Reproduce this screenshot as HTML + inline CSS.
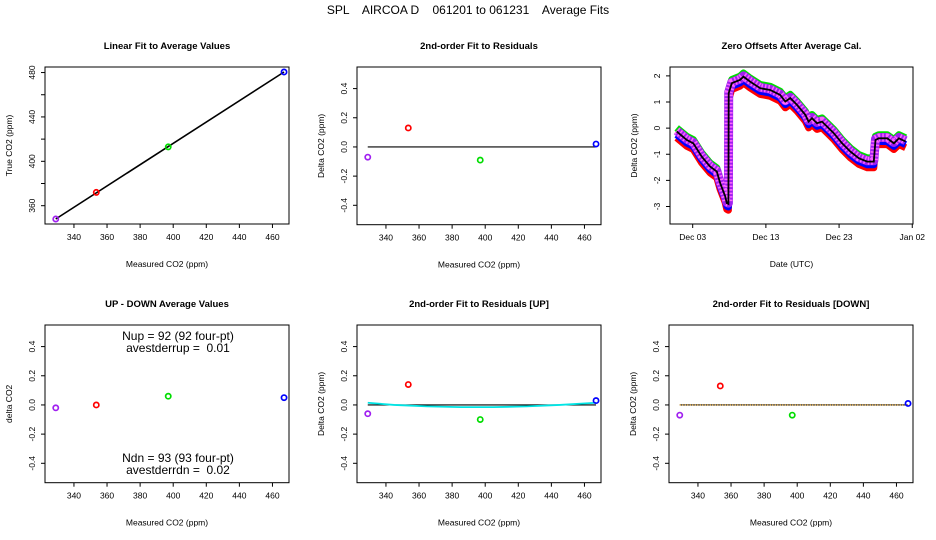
<!DOCTYPE html>
<html><head><meta charset="utf-8"><style>
body{margin:0;background:#fff}
svg{display:block;font-family:"Liberation Sans",sans-serif}
text{white-space:pre}
</style></head><body>
<svg id="c" width="936" height="540" viewBox="0 0 936 540">
<rect width="936" height="540" fill="#fff"/>
<text x="468" y="14" font-size="12" text-anchor="middle" xml:space="preserve">SPL    AIRCOA D    061201 to 061231    Average Fits</text>
</svg>
<script>
// ---- data ----
const measured = [329, 353.5, 397, 467];
const trueVals = [348, 372, 413, 480.5];
const ptColors = ['#a020f0', '#ff0000', '#00dd00', '#0000ff'];
const resid = [-0.07, 0.13, -0.09, 0.02];
const udDelta = [-0.02, 0.00, 0.06, 0.05];
const residUp = [-0.06, 0.14, -0.10, 0.03];
const residDn = [-0.07, 0.13, -0.07, 0.01];
const upFitX = [329, 345, 365, 385, 405, 425, 445, 467];
const upFitY = [0.015, 0.0, -0.01, -0.015, -0.015, -0.01, 0.0, 0.015];
const xTicks = [340, 360, 380, 400, 420, 440, 460];
const resTicks = [-0.4, -0.2, 0.0, 0.2, 0.4];
const trueTicks = [360, 380, 400, 420, 440, 460, 480];
const trueTickLabels = ['360', '', '400', '', '440', '', '480'];
const days = [0.81,2.18,3.09,4.23,5.37,6.29,6.74,7.43,7.66,7.88,7.92,8.34,9.48,9.94,10.85,12.22,13.59,14.96,15.65,16.33,17.25,18.39,18.84,19.30,19.99,20.67,21.36,22.27,23.42,24.55,25.69,26.84,27.75,27.98,28.43,29.58,30.49,31.18,32.09];
const meanOff = [-0.13,-0.45,-0.58,-1.09,-1.47,-1.66,-2.1,-2.6,-2.87,-2.9,1.34,1.72,1.85,1.97,1.78,1.53,1.46,1.27,1.02,1.15,0.89,0.51,0.25,0.38,0.19,0.25,0.06,-0.19,-0.58,-0.9,-1.15,-1.28,-1.28,-0.45,-0.39,-0.39,-0.58,-0.39,-0.51];
const seriesNames = ['green', 'red', 'blue', 'purple'];
const seriesShift = [0.14, -0.24, -0.12, 0.03];
const seriesColors = ['#00dd00', '#ff0000', '#0000ff', '#a020f0'];
const dateTicks = [3, 13, 23, 33];
const dateLabels = ['Dec 03', 'Dec 13', 'Dec 23', 'Jan 02'];
const zTicks = [-3, -2, -1, 0, 1, 2];

const svg = document.getElementById('c');
const NS = 'http://www.w3.org/2000/svg';
function mk(tag, attrs, parent) {
  const e = document.createElementNS(NS, tag);
  for (const k in attrs) e.setAttribute(k, attrs[k]);
  (parent || svg).appendChild(e);
  return e;
}
function lin(d0, d1, r0, r1) { return v => r0 + (v - d0) / (d1 - d0) * (r1 - r0); }

function panel(name, L, T, R, B, xd, yd, title, xlab, ylab, xt, xtl, yt, ytl) {
  const g = mk('g', {});
  
  
  const sx = lin(xd[0], xd[1], L, R), sy = lin(yd[0], yd[1], B, T);
  const box = mk('rect', {x: L, y: T, width: R - L, height: B - T, fill: 'none', stroke: '#000', 'stroke-width': 1}, g);
  
  
  const tt = mk('text', {x: (L + R) / 2, y: T - 18, 'font-size': 9.5, 'font-weight': 'bold', 'text-anchor': 'middle'}, g);
  tt.textContent = title;
  
  
  const xl = mk('text', {x: (L + R) / 2, y: B + 43, 'font-size': 8.5, 'text-anchor': 'middle'}, g);
  xl.textContent = xlab;
  
  
  const yx = L - 33, yy = (T + B) / 2;
  const yl = mk('text', {x: yx, y: yy, 'font-size': 8.5, 'text-anchor': 'middle', transform: `rotate(-90 ${yx} ${yy})`}, g);
  yl.textContent = ylab;
  
  
  xt.forEach((v, i) => {
    const x = sx(v);
    mk('line', {x1: x, x2: x, y1: B, y2: B + 4, stroke: '#000'}, g);
    const t = mk('text', {x: x, y: B + 16, 'font-size': 8.5, 'text-anchor': 'middle'}, g);
    t.textContent = xtl[i];
    
    
  });
  yt.forEach((v, i) => {
    const y = sy(v);
    mk('line', {x1: L - 4, x2: L, y1: y, y2: y, stroke: '#000'}, g);
    const tx = L - 10;
    const t = mk('text', {x: tx, y: y, 'font-size': 8.5, 'text-anchor': 'middle', transform: `rotate(-90 ${tx} ${y})`}, g);
    t.textContent = ytl[i];
    
    
  });
  return {g, sx, sy};
}
function pts(p, xs, ys) {
  xs.forEach((x, i) => {
    const c = mk('circle', {cx: p.sx(x), cy: p.sy(ys[i]), r: 2.6, fill: 'none', stroke: ptColors[i], 'stroke-width': 1.7}, p.g);
    
    
  });
}
const xd = [322.5, 470];
const resTL = resTicks.map(v => v.toFixed(1));
const xTL = xTicks.map(String);

// Panel 1
let p = panel('linear-fit-panel', 45, 67, 289, 224, xd, [343.5, 485], 'Linear Fit to Average Values', 'Measured CO2 (ppm)', 'True CO2 (ppm)', xTicks, xTL, trueTicks, trueTickLabels);
let fl = mk('line', {x1: p.sx(measured[0]), y1: p.sy(trueVals[0]), x2: p.sx(measured[3]), y2: p.sy(trueVals[3]), stroke: '#000', 'stroke-width': 1.6}, p.g);


pts(p, measured, trueVals);

// Panel 2
const rd = [-0.533, 0.548];
p = panel('residuals-panel', 357, 67, 601, 224.7, xd, rd, '2nd-order Fit to Residuals', 'Measured CO2 (ppm)', 'Delta CO2 (ppm)', xTicks, xTL, resTicks, resTL);
fl = mk('line', {x1: p.sx(329), y1: p.sy(0), x2: p.sx(467), y2: p.sy(0), stroke: '#000', 'stroke-width': 1.2}, p.g);


pts(p, measured, resid);

// Panel 3
p = panel('zero-offsets-panel', 670, 67, 913, 224, [-0.1, 33.1], [-3.67, 2.34], 'Zero Offsets After Average Cal.', 'Date (UTC)', 'Delta CO2 (ppm)', dateTicks, dateLabels, zTicks, zTicks.map(String));
seriesNames.forEach((n, k) => {
  const d = days.map((dd, i) => (i ? 'L' : 'M') + p.sx(dd).toFixed(1) + ',' + p.sy(meanOff[i] + seriesShift[k]).toFixed(1)).join(' ');
  const pl = mk('path', {d: d, fill: 'none', stroke: seriesColors[k], 'stroke-width': k === 3 ? 9 : 7, 'stroke-linejoin': 'round'}, p.g);
  
  
  if (k === 3) {
    const pl2 = mk('path', {d: d, fill: 'none', stroke: '#ff66ff', 'stroke-width': 8, 'stroke-dasharray': '1.5 2', 'stroke-linejoin': 'round'}, p.g);
    
    
  }
});
const md = days.map((dd, i) => (i ? 'L' : 'M') + p.sx(dd).toFixed(1) + ',' + p.sy(meanOff[i]).toFixed(1)).join(' ');
fl = mk('path', {d: md, fill: 'none', stroke: '#000', 'stroke-width': 1.8}, p.g);



// Panel 4
p = panel('up-down-panel', 45, 325, 289, 482.7, xd, rd, 'UP - DOWN Average Values', 'Measured CO2 (ppm)', 'delta CO2', xTicks, xTL, resTicks, resTL);
pts(p, measured, udDelta);
[['Nup = 92 (92 four-pt)', 340], ['avestderrup =  0.01', 352], ['Ndn = 93 (93 four-pt)', 462], ['avestderrdn =  0.02', 474]].forEach(a => {
  const t = mk('text', {x: 178, y: a[1], 'font-size': 12, 'text-anchor': 'middle'}, p.g);
  t.setAttribute('xml:space', 'preserve');
  t.textContent = a[0];
  
  
});

// Panel 5
p = panel('residuals-up-panel', 357, 325, 601, 482.7, xd, rd, '2nd-order Fit to Residuals [UP]', 'Measured CO2 (ppm)', 'Delta CO2 (ppm)', xTicks, xTL, resTicks, resTL);
fl = mk('line', {x1: p.sx(329), y1: p.sy(0), x2: p.sx(467), y2: p.sy(0), stroke: '#000', 'stroke-width': 1.2}, p.g);


fl = mk('path', {d: upFitX.map((x, i) => (i ? 'L' : 'M') + p.sx(x) + ',' + p.sy(upFitY[i])).join(' '), fill: 'none', stroke: '#00e5e5', 'stroke-width': 1.8}, p.g);


pts(p, measured, residUp);

// Panel 6
p = panel('residuals-down-panel', 669, 325, 913, 482.7, xd, rd, '2nd-order Fit to Residuals [DOWN]', 'Measured CO2 (ppm)', 'Delta CO2 (ppm)', xTicks, xTL, resTicks, resTL);
fl = mk('line', {x1: p.sx(329), y1: p.sy(0), x2: p.sx(467), y2: p.sy(0), stroke: '#000', 'stroke-width': 1.2}, p.g);


fl = mk('line', {x1: p.sx(329), y1: p.sy(0), x2: p.sx(467), y2: p.sy(0), stroke: '#ffa500', 'stroke-width': 1.2, 'stroke-dasharray': '1 1.5'}, p.g);


pts(p, measured, residDn);
</script>
</body></html>
